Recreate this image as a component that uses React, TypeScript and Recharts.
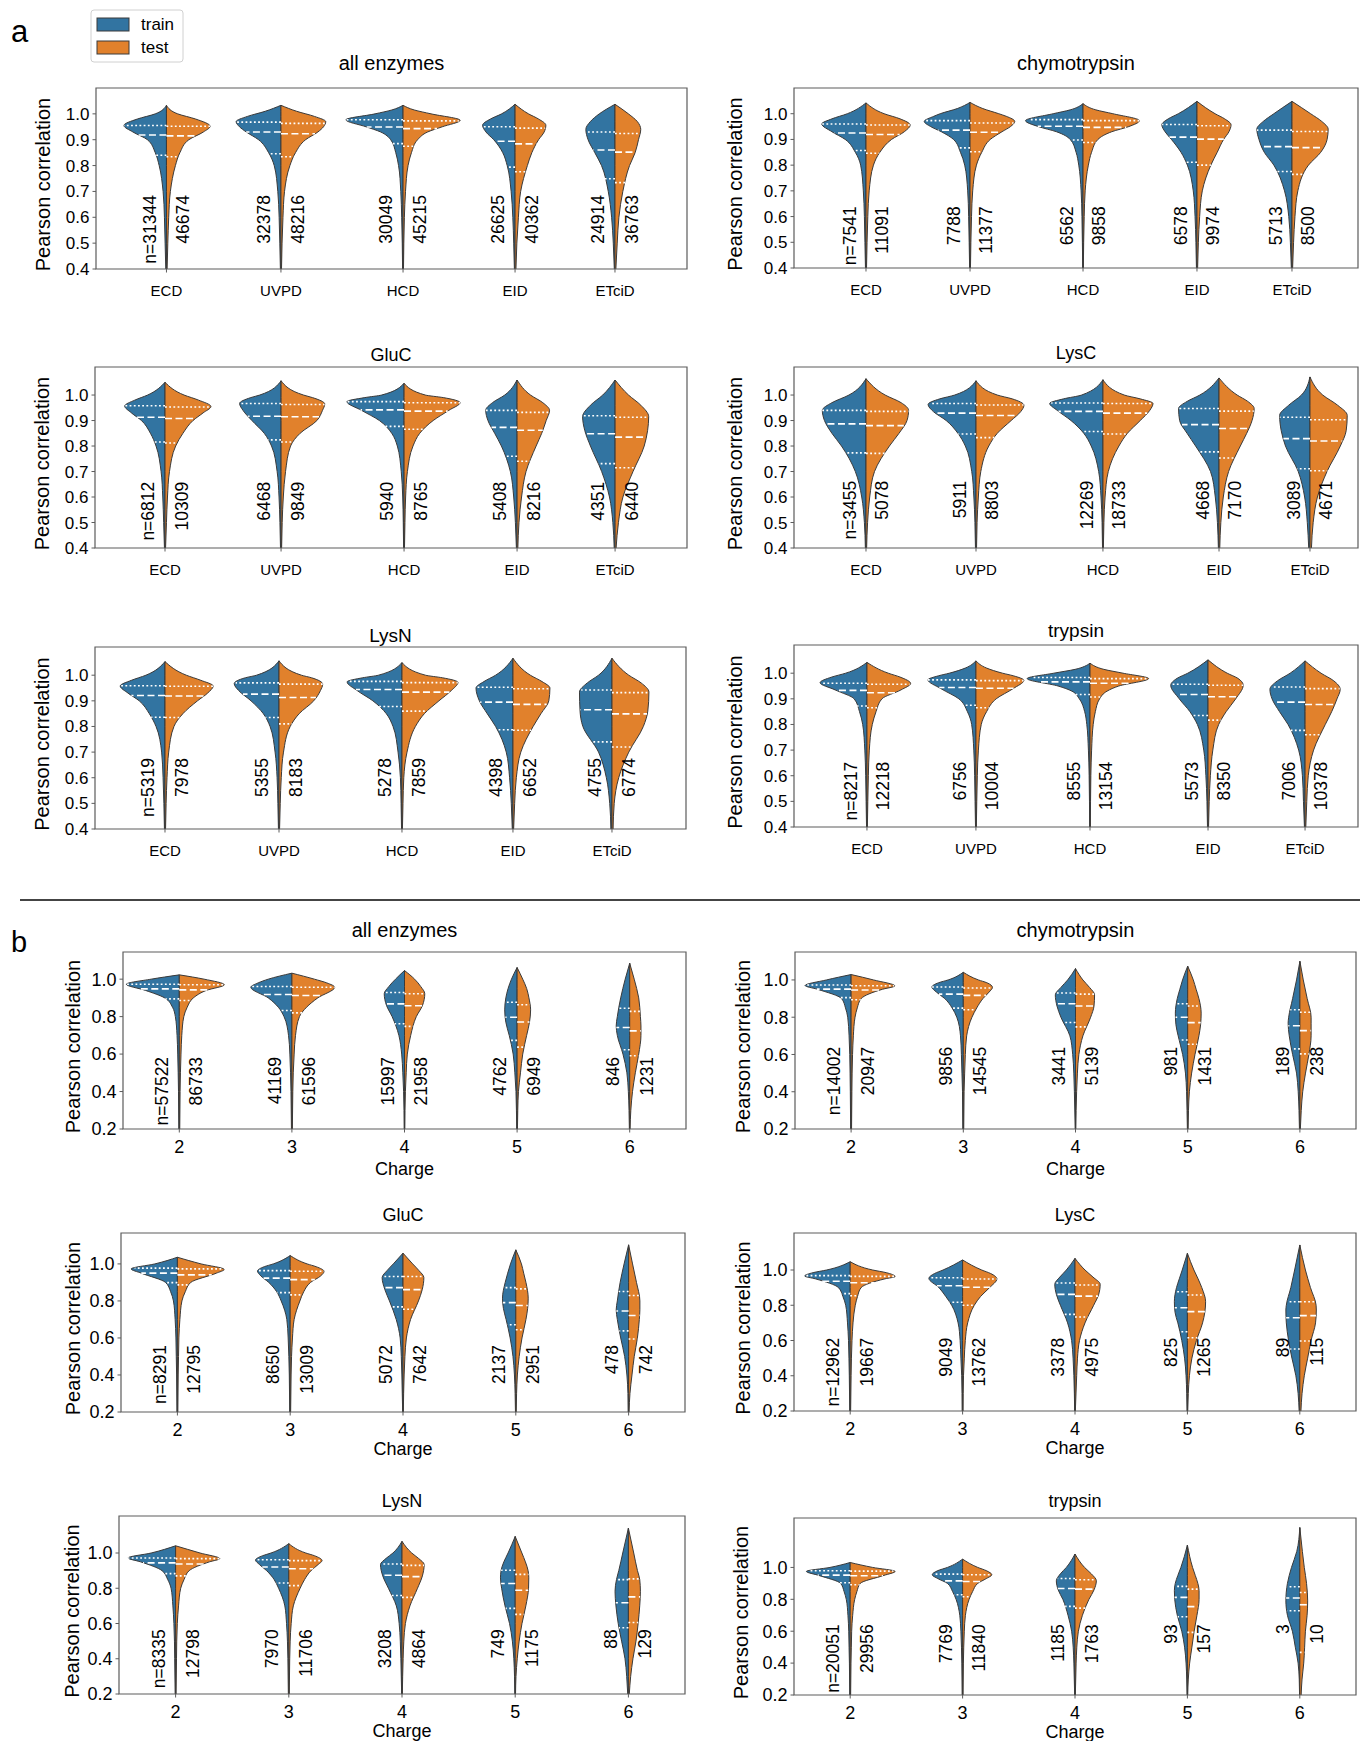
import React from "react";
import { Area, ComposedChart, ReferenceArea, ReferenceLine, Scatter, XAxis, YAxis } from "recharts";

const FONT = "'Liberation Sans', Arial, Helvetica, sans-serif";
const BLUE = "#3274a1";
const ORANGE = "#e1812c";
const EDGE = "#3a3a3a";
const SPINE = "#5c5c5c";

type Pt = [number, number];
type Shape = Pt[];

const methods = ["ECD", "UVPD", "HCD", "EID", "ETciD"];
const charges = ["2", "3", "4", "5", "6"];
const ticksA = [0.4, 0.5, 0.6, 0.7, 0.8, 0.9, 1.0];
const ticksB = [0.2, 0.4, 0.6, 0.8, 1.0];

// ---- a: all enzymes ----
const aAllTrainShape: Shape[] = [
  [[.4,.006],[.5,.012],[.6,.018],[.7,.03],[.8,.065],[.85,.1],[.9,.17],[.93,.3],[.955,.38],[.98,.26],[1,.1],[1.033,0]],
  [[.4,.005],[.5,.01],[.6,.016],[.7,.028],[.8,.06],[.85,.11],[.9,.2],[.93,.31],[.95,.37],[.97,.4],[.99,.3],[1.01,.14],[1.033,0]],
  [[.4,.004],[.5,.007],[.6,.012],[.7,.02],[.8,.04],[.85,.065],[.9,.11],[.93,.2],[.95,.33],[.977,.51],[1,.25],[1.015,.1],[1.033,0]],
  [[.4,.006],[.5,.012],[.6,.02],[.7,.035],[.8,.07],[.85,.11],[.9,.19],[.93,.26],[.956,.29],[.98,.22],[1,.12],[1.037,0]],
  [[.4,.006],[.5,.015],[.6,.03],[.7,.06],[.8,.12],[.85,.18],[.9,.24],[.94,.26],[.97,.22],[1,.14],[1.037,0]],
];
const aAllTestShape: Shape[] = [
  [[.4,.006],[.5,.012],[.6,.02],[.7,.035],[.8,.08],[.85,.12],[.9,.2],[.93,.33],[.952,.39],[.98,.26],[1,.1],[1.033,0]],
  [[.4,.005],[.5,.01],[.6,.018],[.7,.032],[.8,.08],[.85,.13],[.9,.22],[.93,.33],[.95,.38],[.97,.4],[.99,.3],[1.01,.14],[1.033,0]],
  [[.4,.004],[.5,.007],[.6,.012],[.7,.022],[.8,.045],[.85,.075],[.9,.13],[.93,.22],[.95,.35],[.975,.51],[1,.25],[1.015,.1],[1.033,0]],
  [[.4,.008],[.5,.016],[.6,.03],[.7,.05],[.8,.11],[.85,.15],[.9,.21],[.93,.26],[.956,.275],[.98,.21],[1,.12],[1.037,0]],
  [[.4,.008],[.5,.02],[.6,.035],[.7,.07],[.8,.13],[.85,.18],[.9,.21],[.94,.23],[.97,.2],[1,.12],[1.037,0]],
];
const aAllTrainQ = [[.84,.918,.955],[.846,.93,.968],[.885,.949,.977],[.794,.894,.95],[.749,.86,.93]];
const aAllTestQ = [[.834,.915,.952],[.834,.923,.963],[.875,.943,.973],[.776,.884,.945],[.734,.852,.924]];
const aAllTrainN = [31344, 32378, 30049, 26625, 24914];
const aAllTestN = [46674, 48216, 45215, 40362, 36763];

// ---- a: chymotrypsin ----
const aChyTrainShape: Shape[] = [
  [[.4,.005],[.5,.01],[.6,.015],[.7,.025],[.8,.05],[.85,.1],[.9,.195],[.93,.32],[.96,.415],[.98,.32],[1,.175],[1.042,0]],
  [[.4,.004],[.5,.008],[.6,.013],[.7,.022],[.8,.05],[.85,.09],[.9,.155],[.93,.27],[.95,.37],[.97,.43],[.99,.34],[1,.28],[1.02,.12],[1.044,0]],
  [[.4,.003],[.5,.006],[.6,.01],[.7,.018],[.8,.04],[.85,.065],[.9,.12],[.93,.25],[.95,.42],[.973,.54],[1,.28],[1.015,.12],[1.039,0]],
  [[.4,.005],[.5,.01],[.6,.018],[.7,.035],[.8,.09],[.85,.15],[.9,.24],[.93,.3],[.957,.33],[.98,.27],[1,.175],[1.048,0]],
  [[.4,.006],[.5,.015],[.6,.03],[.7,.07],[.8,.17],[.85,.26],[.9,.31],[.94,.33],[.97,.27],[1,.17],[1.048,0]],
];
const aChyTestShape: Shape[] = [
  [[.4,.005],[.5,.01],[.6,.017],[.7,.03],[.8,.07],[.85,.13],[.9,.24],[.93,.36],[.956,.415],[.98,.32],[1,.17],[1.042,0]],
  [[.4,.004],[.5,.008],[.6,.014],[.7,.025],[.8,.06],[.85,.11],[.9,.19],[.93,.3],[.95,.38],[.97,.42],[.99,.34],[1,.27],[1.02,.12],[1.044,0]],
  [[.4,.003],[.5,.006],[.6,.011],[.7,.02],[.8,.05],[.85,.08],[.9,.14],[.93,.27],[.95,.43],[.973,.53],[1,.28],[1.015,.12],[1.039,0]],
  [[.4,.006],[.5,.013],[.6,.025],[.7,.05],[.8,.13],[.85,.19],[.9,.25],[.93,.3],[.957,.32],[.98,.26],[1,.17],[1.048,0]],
  [[.4,.006],[.5,.015],[.6,.028],[.7,.055],[.8,.155],[.85,.27],[.9,.33],[.94,.34],[.97,.28],[1,.175],[1.048,0]],
];
const aChyTrainQ = [[.857,.925,.96],[.867,.936,.973],[.898,.951,.977],[.811,.909,.958],[.775,.872,.936]];
const aChyTestQ = [[.846,.919,.956],[.852,.928,.964],[.888,.947,.973],[.80,.901,.953],[.764,.868,.931]];
const aChyTrainN = [7541, 7788, 6562, 6578, 5713];
const aChyTestN = [11091, 11377, 9858, 9974, 8500];

// ---- a: GluC ----
const aGluTrainShape: Shape[] = [
  [[.4,.005],[.5,.012],[.6,.02],[.7,.035],[.8,.08],[.85,.13],[.9,.21],[.93,.3],[.957,.36],[.98,.27],[1,.155],[1.05,0]],
  [[.4,.005],[.5,.01],[.6,.018],[.7,.035],[.8,.085],[.85,.15],[.9,.26],[.94,.34],[.967,.37],[.99,.27],[1,.19],[1.056,0]],
  [[.4,.004],[.5,.007],[.6,.012],[.7,.025],[.8,.06],[.85,.11],[.9,.22],[.94,.38],[.974,.51],[.99,.35],[1,.2],[1.046,0]],
  [[.4,.006],[.5,.015],[.6,.03],[.7,.06],[.8,.14],[.85,.2],[.9,.26],[.94,.28],[.97,.22],[1,.11],[1.059,0]],
  [[.4,.008],[.5,.02],[.6,.05],[.7,.12],[.8,.22],[.86,.27],[.915,.29],[.96,.22],[1,.11],[1.059,0]],
];
const aGluTestShape: Shape[] = [
  [[.4,.005],[.5,.013],[.6,.022],[.7,.04],[.8,.095],[.85,.16],[.9,.25],[.93,.34],[.955,.41],[.98,.3],[1,.17],[1.05,0]],
  [[.4,.005],[.5,.01],[.6,.02],[.7,.04],[.8,.085],[.85,.17],[.9,.32],[.94,.37],[.965,.39],[.99,.28],[1,.2],[1.056,0]],
  [[.4,.004],[.5,.008],[.6,.014],[.7,.03],[.8,.08],[.85,.14],[.9,.26],[.94,.4],[.97,.5],[.99,.35],[1,.19],[1.046,0]],
  [[.4,.007],[.5,.017],[.6,.04],[.7,.08],[.8,.17],[.85,.22],[.9,.26],[.94,.29],[.97,.23],[1,.12],[1.059,0]],
  [[.4,.009],[.5,.03],[.6,.07],[.7,.16],[.8,.26],[.86,.29],[.915,.3],[.96,.23],[1,.12],[1.059,0]],
];
const aGluTrainQ = [[.816,.913,.958],[.824,.917,.967],[.877,.942,.974],[.76,.873,.94],[.731,.848,.919]];
const aGluTestQ = [[.812,.908,.953],[.816,.915,.963],[.866,.937,.97],[.74,.862,.932],[.715,.835,.913]];
const aGluTrainN = [6812, 6468, 5940, 5408, 4351];
const aGluTestN = [10309, 9849, 8765, 8216, 6440];

// ---- a: LysC ----
const aLysCTrainShape: Shape[] = [
  [[.4,.006],[.5,.015],[.6,.04],[.7,.1],[.8,.23],[.85,.32],[.9,.39],[.94,.41],[.97,.32],[1,.16],[1.064,0]],
  [[.4,.005],[.5,.01],[.6,.02],[.7,.04],[.8,.1],[.85,.17],[.9,.28],[.935,.4],[.963,.45],[.985,.34],[1,.2],[1.056,0]],
  [[.4,.004],[.5,.008],[.6,.018],[.7,.04],[.8,.11],[.85,.18],[.9,.3],[.94,.43],[.967,.5],[.985,.37],[1,.2],[1.06,0]],
  [[.4,.006],[.5,.015],[.6,.035],[.7,.08],[.8,.22],[.85,.3],[.9,.37],[.947,.38],[.975,.3],[1,.18],[1.067,0]],
  [[.4,.012],[.5,.025],[.6,.05],[.7,.11],[.8,.23],[.86,.27],[.92,.285],[.96,.2],[1,.08],[1.071,0]],
];
const aLysCTestShape: Shape[] = [
  [[.4,.006],[.5,.015],[.6,.035],[.7,.08],[.8,.22],[.85,.31],[.9,.385],[.94,.4],[.97,.33],[1,.18],[1.064,0]],
  [[.4,.005],[.5,.01],[.6,.022],[.7,.045],[.8,.12],[.85,.2],[.9,.33],[.935,.42],[.96,.45],[.985,.34],[1,.2],[1.056,0]],
  [[.4,.004],[.5,.009],[.6,.02],[.7,.05],[.8,.15],[.85,.23],[.9,.35],[.94,.44],[.967,.47],[.985,.35],[1,.2],[1.06,0]],
  [[.4,.007],[.5,.017],[.6,.04],[.7,.09],[.8,.2],[.85,.26],[.9,.31],[.947,.33],[.975,.27],[1,.17],[1.067,0]],
  [[.4,.014],[.5,.03],[.6,.07],[.7,.16],[.8,.285],[.86,.34],[.92,.35],[.96,.26],[1,.12],[1.071,0]],
];
const aLysCTrainQ = [[.773,.887,.94],[.847,.929,.967],[.857,.936,.969],[.777,.884,.947],[.711,.829,.913]];
const aLysCTestQ = [[.771,.88,.936],[.833,.92,.961],[.847,.929,.967],[.753,.869,.937],[.703,.82,.903]];
const aLysCTrainN = [3455, 5911, 12269, 4668, 3089];
const aLysCTestN = [5078, 8803, 18733, 7170, 4671];

// ---- a: LysN ----
const aLysNTrainShape: Shape[] = [
  [[.4,.005],[.5,.01],[.6,.017],[.7,.03],[.8,.08],[.85,.14],[.9,.23],[.93,.33],[.958,.4],[.98,.3],[1,.17],[1.053,0]],
  [[.4,.005],[.5,.01],[.6,.017],[.7,.035],[.8,.08],[.85,.14],[.9,.25],[.94,.36],[.967,.4],[.99,.3],[1,.2],[1.056,0]],
  [[.4,.004],[.5,.008],[.6,.014],[.7,.035],[.8,.08],[.85,.14],[.9,.26],[.94,.4],[.974,.49],[.99,.35],[1,.21],[1.049,0]],
  [[.4,.006],[.5,.015],[.6,.03],[.7,.06],[.8,.155],[.85,.23],[.9,.3],[.95,.33],[.975,.26],[1,.155],[1.066,0]],
  [[.4,.01],[.5,.02],[.6,.05],[.7,.12],[.8,.26],[.86,.285],[.934,.29],[.97,.22],[1,.12],[1.066,0]],
];
const aLysNTestShape: Shape[] = [
  [[.4,.005],[.5,.01],[.6,.018],[.7,.033],[.8,.08],[.85,.16],[.9,.29],[.93,.38],[.958,.43],[.98,.32],[1,.19],[1.053,0]],
  [[.4,.005],[.5,.011],[.6,.02],[.7,.04],[.8,.1],[.85,.18],[.9,.31],[.94,.37],[.965,.39],[.99,.29],[1,.2],[1.056,0]],
  [[.4,.004],[.5,.009],[.6,.016],[.7,.045],[.8,.12],[.85,.2],[.9,.33],[.94,.44],[.972,.5],[.99,.36],[1,.21],[1.049,0]],
  [[.4,.006],[.5,.015],[.6,.03],[.7,.07],[.8,.18],[.85,.25],[.9,.32],[.95,.33],[.975,.26],[1,.155],[1.066,0]],
  [[.4,.01],[.5,.02],[.6,.06],[.7,.15],[.8,.28],[.86,.32],[.934,.33],[.97,.26],[1,.15],[1.066,0]],
];
const aLysNTrainQ = [[.836,.921,.959],[.835,.926,.97],[.878,.944,.976],[.787,.895,.953],[.74,.865,.942]];
const aLysNTestQ = [[.835,.919,.957],[.81,.913,.965],[.86,.934,.971],[.785,.886,.947],[.72,.849,.932]];
const aLysNTrainN = [5319, 5355, 5278, 4398, 4755];
const aLysNTestN = [7978, 8183, 7859, 6652, 6774];

// ---- a: trypsin ----
const aTryTrainShape: Shape[] = [
  [[.4,.004],[.5,.008],[.6,.012],[.7,.02],[.8,.04],[.85,.07],[.9,.12],[.935,.3],[.963,.44],[.985,.33],[1,.2],[1.042,0]],
  [[.4,.004],[.5,.008],[.6,.012],[.7,.02],[.8,.04],[.85,.08],[.9,.16],[.94,.33],[.974,.45],[.99,.35],[1,.25],[1.02,.1],[1.048,0]],
  [[.4,.003],[.5,.005],[.6,.008],[.7,.015],[.8,.03],[.85,.05],[.9,.1],[.93,.17],[.95,.3],[.979,.59],[1,.34],[1.015,.14],[1.039,0]],
  [[.4,.005],[.5,.01],[.6,.02],[.7,.04],[.8,.1],[.85,.17],[.9,.27],[.953,.35],[.98,.29],[1,.19],[1.052,0]],
  [[.4,.006],[.5,.015],[.6,.025],[.7,.06],[.8,.16],[.85,.24],[.9,.31],[.937,.33],[.97,.26],[1,.14],[1.048,0]],
];
const aTryTestShape: Shape[] = [
  [[.4,.004],[.5,.008],[.6,.013],[.7,.022],[.8,.05],[.85,.085],[.9,.14],[.935,.32],[.96,.41],[.985,.31],[1,.2],[1.042,0]],
  [[.4,.004],[.5,.008],[.6,.013],[.7,.023],[.8,.05],[.85,.1],[.9,.19],[.94,.35],[.972,.45],[.99,.35],[1,.25],[1.02,.1],[1.048,0]],
  [[.4,.003],[.5,.005],[.6,.008],[.7,.015],[.8,.03],[.85,.05],[.9,.09],[.93,.16],[.95,.27],[.979,.55],[1,.31],[1.015,.13],[1.039,0]],
  [[.4,.005],[.5,.011],[.6,.022],[.7,.045],[.8,.1],[.85,.17],[.9,.26],[.953,.33],[.98,.28],[1,.18],[1.052,0]],
  [[.4,.007],[.5,.016],[.6,.03],[.7,.08],[.8,.19],[.85,.25],[.9,.3],[.937,.33],[.97,.27],[1,.15],[1.048,0]],
];
const aTryTrainQ = [[.872,.933,.961],[.875,.944,.974],[.917,.966,.983],[.835,.917,.957],[.777,.887,.946]];
const aTryTestQ = [[.865,.924,.957],[.865,.941,.971],[.907,.961,.979],[.817,.908,.953],[.76,.878,.94]];
const aTryTrainN = [8217, 6756, 8555, 5573, 7006];
const aTryTestN = [12218, 10004, 13154, 8350, 10378];

// ---- b: all enzymes ----
const bAllTrainShape: Shape[] = [
  [[.2,.004],[.4,.007],[.5,.01],[.6,.014],[.7,.02],[.8,.035],[.85,.06],[.9,.13],[.94,.3],[.973,.47],[1,.25],[1.023,0]],
  [[.2,.004],[.4,.008],[.5,.012],[.6,.018],[.7,.03],[.8,.07],[.85,.12],[.9,.21],[.957,.365],[.98,.3],[1,.21],[1.032,0]],
  [[.2,.003],[.4,.008],[.5,.015],[.6,.025],[.7,.05],[.8,.11],[.86,.16],[.922,.18],[.96,.14],[1,.08],[1.046,0]],
  [[.2,.003],[.3,.006],[.4,.01],[.5,.02],[.6,.035],[.7,.07],[.77,.1],[.836,.11],[.9,.1],[.95,.08],[1,.05],[1.062,0]],
  [[.2,.003],[.3,.006],[.4,.012],[.5,.025],[.6,.06],[.7,.11],[.75,.12],[.8,.11],[.9,.08],[1,.04],[1.085,0]],
];
const bAllTestShape: Shape[] = [
  [[.2,.004],[.4,.007],[.5,.01],[.6,.015],[.7,.022],[.8,.04],[.85,.07],[.9,.125],[.94,.24],[.97,.4],[1,.22],[1.023,0]],
  [[.2,.004],[.4,.008],[.5,.012],[.6,.02],[.7,.032],[.8,.067],[.85,.13],[.9,.23],[.957,.38],[.98,.31],[1,.2],[1.032,0]],
  [[.2,.003],[.4,.008],[.5,.015],[.6,.025],[.7,.055],[.8,.105],[.86,.16],[.922,.18],[.96,.145],[1,.09],[1.046,0]],
  [[.2,.003],[.3,.006],[.4,.012],[.5,.03],[.6,.05],[.7,.085],[.77,.11],[.836,.12],[.9,.105],[.95,.085],[1,.05],[1.062,0]],
  [[.2,.003],[.3,.01],[.4,.025],[.5,.05],[.6,.08],[.7,.1],[.75,.1],[.8,.095],[.9,.08],[1,.04],[1.085,0]],
];
const bAllTrainQ = [[.895,.948,.973],[.833,.918,.961],[.762,.868,.929],[.673,.797,.877],[.623,.742,.845]];
const bAllTestQ = [[.886,.943,.97],[.82,.913,.957],[.748,.858,.922],[.637,.771,.863],[.591,.724,.828]];
const bAllTrainN = [57522, 41169, 15997, 4762, 846];
const bAllTestN = [86733, 61596, 21958, 6949, 1231];

// ---- b: chymotrypsin ----
const bChyTrainShape: Shape[] = [
  [[.2,.004],[.4,.007],[.5,.009],[.6,.012],[.7,.018],[.8,.03],[.85,.05],[.9,.085],[.95,.3],[.97,.41],[1,.22],[1.029,0]],
  [[.2,.004],[.4,.007],[.5,.012],[.6,.017],[.7,.025],[.8,.058],[.85,.1],[.9,.165],[.935,.24],[.962,.28],[.985,.22],[1,.135],[1.041,0]],
  [[.2,.003],[.4,.01],[.5,.015],[.6,.025],[.7,.05],[.8,.13],[.86,.165],[.92,.18],[.96,.13],[1,.07],[1.061,0]],
  [[.2,.003],[.3,.006],[.4,.01],[.5,.02],[.6,.045],[.7,.085],[.76,.105],[.822,.11],[.9,.093],[.95,.07],[1,.046],[1.074,0]],
  [[.2,.004],[.3,.008],[.4,.015],[.5,.03],[.6,.065],[.7,.095],[.768,.105],[.8,.1],[.9,.065],[1,.03],[1.1,0]],
];
const bChyTestShape: Shape[] = [
  [[.2,.004],[.4,.007],[.5,.009],[.6,.013],[.7,.02],[.8,.035],[.85,.055],[.9,.09],[.95,.28],[.968,.39],[1,.2],[1.029,0]],
  [[.2,.004],[.4,.007],[.5,.012],[.6,.018],[.7,.03],[.8,.077],[.85,.12],[.9,.175],[.935,.23],[.96,.26],[.985,.21],[1,.135],[1.041,0]],
  [[.2,.003],[.4,.01],[.5,.017],[.6,.03],[.7,.066],[.8,.135],[.86,.165],[.92,.17],[.96,.125],[1,.066],[1.061,0]],
  [[.2,.003],[.3,.007],[.4,.015],[.5,.035],[.6,.065],[.7,.1],[.76,.115],[.822,.12],[.9,.1],[.95,.075],[1,.05],[1.074,0]],
  [[.2,.004],[.3,.012],[.4,.025],[.5,.05],[.6,.08],[.7,.1],[.768,.1],[.8,.1],[.9,.065],[1,.03],[1.1,0]],
];
const bChyTrainQ = [[.905,.951,.973],[.849,.924,.962],[.772,.872,.93],[.678,.8,.872],[.63,.754,.84]];
const bChyTestQ = [[.894,.946,.969],[.84,.917,.957],[.748,.86,.924],[.655,.771,.86],[.603,.728,.827]];
const bChyTrainN = [14002, 9856, 3441, 981, 189];
const bChyTestN = [20947, 14545, 5139, 1431, 238];

// ---- b: GluC ----
const bGluTrainShape: Shape[] = [
  [[.2,.004],[.4,.007],[.5,.01],[.6,.013],[.7,.02],[.8,.035],[.85,.06],[.9,.105],[.95,.32],[.973,.41],[1,.2],[1.036,0]],
  [[.2,.004],[.4,.008],[.5,.012],[.6,.018],[.7,.03],[.8,.08],[.85,.12],[.9,.19],[.935,.26],[.962,.29],[.985,.23],[1,.15],[1.045,0]],
  [[.2,.003],[.4,.01],[.5,.015],[.6,.025],[.7,.06],[.8,.12],[.86,.16],[.926,.185],[.965,.14],[1,.086],[1.058,0]],
  [[.2,.003],[.3,.006],[.4,.012],[.5,.025],[.6,.05],[.7,.086],[.76,.11],[.815,.118],[.9,.094],[.95,.072],[1,.047],[1.076,0]],
  [[.2,.004],[.3,.006],[.4,.015],[.5,.035],[.6,.07],[.7,.1],[.752,.11],[.8,.1],[.9,.075],[1,.04],[1.103,0]],
];
const bGluTestShape: Shape[] = [
  [[.2,.004],[.4,.007],[.5,.01],[.6,.013],[.7,.022],[.8,.04],[.85,.07],[.9,.118],[.95,.345],[.97,.415],[1,.21],[1.036,0]],
  [[.2,.004],[.4,.008],[.5,.012],[.6,.02],[.7,.035],[.8,.086],[.85,.12],[.9,.18],[.935,.27],[.96,.3],[.985,.23],[1,.15],[1.045,0]],
  [[.2,.003],[.4,.01],[.5,.017],[.6,.03],[.7,.067],[.8,.137],[.86,.17],[.926,.185],[.965,.14],[1,.086],[1.058,0]],
  [[.2,.003],[.3,.007],[.4,.014],[.5,.03],[.6,.055],[.7,.09],[.76,.105],[.815,.11],[.9,.09],[.95,.07],[1,.05],[1.076,0]],
  [[.2,.004],[.3,.012],[.4,.03],[.5,.05],[.6,.078],[.7,.095],[.752,.1],[.8,.1],[.9,.07],[1,.035],[1.103,0]],
];
const bGluTrainQ = [[.899,.95,.977],[.845,.923,.964],[.768,.872,.932],[.671,.791,.872],[.638,.746,.851]];
const bGluTestQ = [[.887,.941,.973],[.833,.915,.96],[.755,.861,.932],[.644,.775,.865],[.594,.721,.829]];
const bGluTrainN = [8291, 8650, 5072, 2137, 478];
const bGluTestN = [12795, 13009, 7642, 2951, 742];

// ---- b: LysC ----
const bLysCTrainShape: Shape[] = [
  [[.2,.004],[.4,.008],[.5,.011],[.6,.015],[.7,.024],[.8,.04],[.85,.065],[.9,.104],[.95,.31],[.966,.405],[.985,.33],[1,.21],[1.047,0]],
  [[.2,.004],[.4,.008],[.5,.015],[.6,.022],[.7,.04],[.8,.097],[.85,.15],[.9,.21],[.953,.3],[.98,.25],[1,.174],[1.057,0]],
  [[.2,.003],[.4,.01],[.5,.017],[.6,.03],[.7,.066],[.8,.13],[.86,.165],[.919,.18],[.96,.135],[1,.077],[1.066,0]],
  [[.2,.003],[.3,.006],[.4,.012],[.5,.025],[.6,.05],[.7,.085],[.76,.11],[.82,.116],[.9,.097],[.95,.072],[1,.046],[1.095,0]],
  [[.2,.006],[.3,.015],[.4,.035],[.5,.07],[.6,.1],[.7,.12],[.773,.124],[.8,.12],[.9,.08],[1,.046],[1.142,0]],
];
const bLysCTestShape: Shape[] = [
  [[.2,.004],[.4,.008],[.5,.011],[.6,.016],[.7,.025],[.8,.045],[.85,.065],[.9,.097],[.95,.31],[.963,.4],[.985,.32],[1,.2],[1.047,0]],
  [[.2,.004],[.4,.008],[.5,.015],[.6,.024],[.7,.045],[.8,.104],[.85,.16],[.9,.24],[.95,.305],[.98,.25],[1,.17],[1.057,0]],
  [[.2,.003],[.4,.015],[.5,.022],[.6,.04],[.7,.089],[.8,.166],[.86,.21],[.919,.224],[.96,.16],[1,.089],[1.066,0]],
  [[.2,.003],[.3,.008],[.4,.018],[.5,.04],[.6,.08],[.7,.135],[.76,.155],[.82,.162],[.9,.128],[.95,.095],[1,.058],[1.095,0]],
  [[.2,.01],[.3,.02],[.4,.04],[.5,.07],[.6,.1],[.7,.14],[.773,.147],[.8,.145],[.9,.095],[1,.05],[1.142,0]],
];
const bLysCTrainQ = [[.866,.936,.968],[.817,.911,.956],[.748,.862,.926],[.65,.786,.877],[.552,.729,.82]];
const bLysCTestQ = [[.854,.928,.964],[.80,.902,.949],[.733,.852,.915],[.616,.764,.858],[.597,.741,.82]];
const bLysCTrainN = [12962, 9049, 3378, 825, 89];
const bLysCTestN = [19667, 13762, 4975, 1265, 115];

// ---- b: LysN ----
const bLysNTrainShape: Shape[] = [
  [[.2,.004],[.4,.008],[.5,.01],[.6,.015],[.7,.024],[.8,.04],[.85,.07],[.9,.12],[.95,.31],[.972,.42],[1,.216],[1.041,0]],
  [[.2,.004],[.4,.008],[.5,.012],[.6,.02],[.7,.035],[.8,.09],[.85,.13],[.9,.196],[.935,.26],[.96,.294],[.985,.23],[1,.157],[1.053,0]],
  [[.2,.003],[.4,.01],[.5,.015],[.6,.025],[.7,.05],[.8,.12],[.87,.17],[.934,.19],[.97,.14],[1,.08],[1.066,0]],
  [[.2,.003],[.3,.006],[.4,.012],[.5,.025],[.6,.05],[.7,.09],[.8,.12],[.859,.13],[.9,.125],[.95,.1],[1,.063],[1.094,0]],
  [[.2,.006],[.3,.015],[.4,.03],[.5,.06],[.6,.09],[.7,.11],[.783,.118],[.85,.105],[.9,.085],[1,.05],[1.141,0]],
];
const bLysNTestShape: Shape[] = [
  [[.2,.004],[.4,.008],[.5,.01],[.6,.015],[.7,.026],[.8,.045],[.85,.075],[.9,.12],[.95,.3],[.968,.39],[1,.216],[1.041,0]],
  [[.2,.004],[.4,.008],[.5,.012],[.6,.021],[.7,.04],[.8,.1],[.85,.14],[.9,.196],[.935,.26],[.957,.294],[.985,.225],[1,.15],[1.053,0]],
  [[.2,.003],[.4,.01],[.5,.016],[.6,.03],[.7,.07],[.8,.137],[.87,.18],[.934,.196],[.97,.145],[1,.086],[1.066,0]],
  [[.2,.003],[.3,.007],[.4,.018],[.5,.035],[.6,.06],[.7,.094],[.8,.118],[.859,.12],[.9,.114],[.95,.09],[1,.059],[1.094,0]],
  [[.2,.008],[.3,.02],[.4,.04],[.5,.067],[.6,.086],[.7,.1],[.783,.106],[.85,.1],[.9,.08],[1,.047],[1.141,0]],
];
const bLysNTrainQ = [[.883,.944,.972],[.83,.921,.962],[.759,.874,.938],[.686,.827,.902],[.576,.718,.849]];
const bLysNTestQ = [[.87,.938,.968],[.815,.911,.957],[.748,.866,.93],[.652,.789,.879],[.606,.751,.853]];
const bLysNTrainN = [8335, 7970, 3208, 749, 88];
const bLysNTestN = [12798, 11706, 4864, 1175, 129];

// ---- b: trypsin ----
const bTryTrainShape: Shape[] = [
  [[.2,.004],[.4,.007],[.5,.01],[.6,.013],[.7,.02],[.8,.035],[.85,.055],[.9,.085],[.95,.28],[.975,.39],[1,.18],[1.031,0]],
  [[.2,.004],[.4,.007],[.5,.01],[.6,.015],[.7,.025],[.8,.058],[.85,.09],[.9,.135],[.93,.22],[.954,.27],[.98,.22],[1,.135],[1.052,0]],
  [[.2,.003],[.4,.01],[.5,.016],[.6,.03],[.7,.062],[.8,.108],[.86,.15],[.916,.166],[.96,.13],[1,.077],[1.084,0]],
  [[.2,.003],[.3,.006],[.4,.012],[.5,.025],[.6,.05],[.7,.09],[.8,.113],[.854,.116],[.9,.108],[.95,.085],[1,.058],[1.14,0]],
  [[.2,.002],[.3,.005],[.4,.015],[.5,.04],[.6,.066],[.7,.11],[.79,.124],[.9,.11],[1,.074],[1.1,.027],[1.25,0]],
];
const bTryTestShape: Shape[] = [
  [[.2,.004],[.4,.007],[.5,.01],[.6,.013],[.7,.022],[.8,.04],[.85,.06],[.9,.09],[.95,.3],[.975,.4],[1,.2],[1.031,0]],
  [[.2,.004],[.4,.007],[.5,.01],[.6,.015],[.7,.025],[.8,.058],[.85,.09],[.9,.135],[.93,.21],[.954,.26],[.98,.21],[1,.135],[1.052,0]],
  [[.2,.003],[.4,.01],[.5,.016],[.6,.03],[.7,.066],[.8,.124],[.86,.17],[.916,.19],[.96,.145],[1,.085],[1.084,0]],
  [[.2,.003],[.3,.008],[.4,.02],[.5,.04],[.6,.06],[.7,.085],[.8,.104],[.854,.104],[.9,.093],[.95,.07],[1,.046],[1.14,0]],
  [[.2,.012],[.3,.02],[.4,.035],[.5,.043],[.6,.05],[.7,.065],[.79,.07],[.9,.06],[1,.04],[1.1,.023],[1.25,0]],
];
const bTryTrainQ = [[.904,.952,.979],[.829,.916,.958],[.756,.868,.931],[.691,.812,.881],[.728,.808,.879]];
const bTryTestQ = [[.891,.948,.977],[.816,.912,.954],[.745,.864,.923],[.593,.754,.864],[.467,.766,.843]];
const bTryTrainN = [20051, 7769, 1185, 93, 3];
const bTryTestN = [29956, 11840, 1763, 157, 10];

type Box = { x: number; y: number; w: number; h: number };
type Panel = {
  title: string; titleSize: number; titleY: number; box: Box;
  xDomain: [number, number]; pos: number[]; cats: string[];
  yDomain: [number, number]; yTicks: number[];
  trainShape: Shape[]; testShape: Shape[]; trainQ: number[][]; testQ: number[][];
  trainN: number[]; testN: number[];
  labelY: number; labelGap: number; yTickFont: number; xTickFont: number; xTickMargin: number;
  chargeDy?: number;
};

const posA1L = [0, 1.022, 2.112, 3.112, 4.004];
const posA1R = [0, 0.977, 2.038, 3.108, 4.0];
const posA2L = [0, 1.036, 2.134, 3.143, 4.018];
const posA2R = [0, 1.033, 2.225, 3.315, 4.169];
const posA3L = [0, 1.018, 2.116, 3.107, 3.991];
const posA3R = [0, 1.023, 2.094, 3.202, 4.113];
const posB = [0, 1, 2, 3, 4];

const aL = { labelGap: 53, yTickFont: 17, xTickFont: 15, xTickMargin: 13, cats: methods, yTicks: ticksA };
const aR = { labelGap: 59, yTickFont: 17, xTickFont: 15, xTickMargin: 13, cats: methods, yTicks: ticksA };
const bS = { yTickFont: 18, xTickFont: 18, xTickMargin: 8, cats: charges, yTicks: ticksB, pos: posB, xDomain: [-0.5, 4.5] as [number, number] };

const panels: Panel[] = [
  { ...aL, title: "all enzymes", titleSize: 20, titleY: 63, box: { x: 96, y: 88, w: 591, h: 181 }, xDomain: [-0.629, 4.647], pos: posA1L, yDomain: [0.4, 1.1],
    trainShape: aAllTrainShape, testShape: aAllTestShape, trainQ: aAllTrainQ, testQ: aAllTestQ, trainN: aAllTrainN, testN: aAllTestN, labelY: 0.686 },
  { ...aR, title: "chymotrypsin", titleSize: 20, titleY: 63, box: { x: 794, y: 88, w: 564, h: 180 }, xDomain: [-0.676, 4.62], pos: posA1R, yDomain: [0.4, 1.1],
    trainShape: aChyTrainShape, testShape: aChyTestShape, trainQ: aChyTrainQ, testQ: aChyTestQ, trainN: aChyTrainN, testN: aChyTestN, labelY: 0.64 },
  { ...aL, title: "GluC", titleSize: 18, titleY: 355, box: { x: 95, y: 367, w: 592, h: 181 }, xDomain: [-0.625, 4.66], pos: posA2L, yDomain: [0.4, 1.11],
    trainShape: aGluTrainShape, testShape: aGluTestShape, trainQ: aGluTrainQ, testQ: aGluTestQ, trainN: aGluTrainN, testN: aGluTestN, labelY: 0.66 },
  { ...aR, title: "LysC", titleSize: 18, titleY: 353, box: { x: 794, y: 367, w: 564, h: 181 }, xDomain: [-0.676, 4.62], pos: posA2R, yDomain: [0.4, 1.11],
    trainShape: aLysCTrainShape, testShape: aLysCTestShape, trainQ: aLysCTrainQ, testQ: aLysCTestQ, trainN: aLysCTrainN, testN: aLysCTestN, labelY: 0.664 },
  { ...aL, title: "LysN", titleSize: 19, titleY: 635, box: { x: 95, y: 647, w: 591, h: 182 }, xDomain: [-0.625, 4.652], pos: posA3L, yDomain: [0.4, 1.11],
    trainShape: aLysNTrainShape, testShape: aLysNTestShape, trainQ: aLysNTrainQ, testQ: aLysNTestQ, trainN: aLysNTrainN, testN: aLysNTestN, labelY: 0.677 },
  { ...aR, title: "trypsin", titleSize: 19, titleY: 630, box: { x: 794, y: 645, w: 564, h: 182 }, xDomain: [-0.685, 4.61], pos: posA3R, yDomain: [0.4, 1.11],
    trainShape: aTryTrainShape, testShape: aTryTestShape, trainQ: aTryTrainQ, testQ: aTryTestQ, trainN: aTryTrainN, testN: aTryTestN, labelY: 0.655 },
  { ...bS, title: "all enzymes", titleSize: 20, titleY: 930, box: { x: 123, y: 952, w: 563, h: 177 }, yDomain: [0.2, 1.145], labelGap: 50, chargeDy: 40,
    trainShape: bAllTrainShape, testShape: bAllTestShape, trainQ: bAllTrainQ, testQ: bAllTestQ, trainN: bAllTrainN, testN: bAllTestN, labelY: 0.585 },
  { ...bS, title: "chymotrypsin", titleSize: 20, titleY: 930, box: { x: 795, y: 952, w: 561, h: 177 }, yDomain: [0.2, 1.15], labelGap: 52, chargeDy: 40,
    trainShape: bChyTrainShape, testShape: bChyTestShape, trainQ: bChyTrainQ, testQ: bChyTestQ, trainN: bChyTrainN, testN: bChyTestN, labelY: 0.642 },
  { ...bS, title: "GluC", titleSize: 18, titleY: 1215, box: { x: 121, y: 1233, w: 564, h: 179 }, yDomain: [0.2, 1.167], labelGap: 48, chargeDy: 37,
    trainShape: bGluTrainShape, testShape: bGluTestShape, trainQ: bGluTrainQ, testQ: bGluTestQ, trainN: bGluTrainN, testN: bGluTestN, labelY: 0.562 },
  { ...bS, title: "LysC", titleSize: 18, titleY: 1215, box: { x: 794, y: 1233, w: 562, h: 178 }, yDomain: [0.2, 1.21], labelGap: 51, chargeDy: 37,
    trainShape: bLysCTrainShape, testShape: bLysCTestShape, trainQ: bLysCTrainQ, testQ: bLysCTestQ, trainN: bLysCTrainN, testN: bLysCTestN, labelY: 0.615 },
  { ...bS, title: "LysN", titleSize: 18, titleY: 1501, box: { x: 119, y: 1516, w: 566, h: 178 }, yDomain: [0.2, 1.21], labelGap: 47, chargeDy: 37,
    trainShape: bLysNTrainShape, testShape: bLysNTestShape, trainQ: bLysNTrainQ, testQ: bLysNTestQ, trainN: bLysNTrainN, testN: bLysNTestN, labelY: 0.567 },
  { ...bS, title: "trypsin", titleSize: 18, titleY: 1501, box: { x: 794, y: 1518, w: 562, h: 177 }, yDomain: [0.2, 1.31], labelGap: 53, chargeDy: 37,
    trainShape: bTryTrainShape, testShape: bTryTestShape, trainQ: bTryTrainQ, testQ: bTryTestQ, trainN: bTryTrainN, testN: bTryTestN, labelY: 0.644 },
];

// density width at a given correlation value
function widthAt(shape: Shape, y: number) {
  const s = [...shape].sort((a, b) => a[0] - b[0]);
  for (let k = 0; k < s.length - 1; k++) {
    const [y0, w0] = s[k];
    const [y1, w1] = s[k + 1];
    if (y >= y0 && y <= y1) return w0 + ((w1 - w0) * (y - y0)) / (y1 - y0);
  }
  return 0;
}

const CountLabel = (props: any) => {
  const { cx, cy, payload } = props;
  if (cx == null || cy == null) return <g />;
  return (
    <text x={cx} y={cy} transform={`rotate(-90 ${cx} ${cy})`} textAnchor="end" dominantBaseline="central"
      fontSize={17.5} fontFamily={FONT} fill="#000">
      {payload.t}
    </text>
  );
};

function ViolinPanel({ p }: { p: Panel }) {
  const ML = p.labelGap * 2 + 4;
  const MT = 6;
  const XH = 52;
  const width = ML + p.box.w + 6;
  const height = MT + p.box.h + XH + 2;

  const halves: { key: string; fill: string; rows: { y: number; v: number[] }[] }[] = [];
  const lines: { key: string; c: number; end: number; q: number; med: boolean }[] = [];
  const labels: { x: number; y: number; t: string }[] = [];
  p.pos.forEach((c, i) => {
    const sides = [
      { side: -1, shape: p.trainShape[i], q: p.trainQ[i], fill: BLUE, n: (i === 0 ? "n=" : "") + p.trainN[i] },
      { side: 1, shape: p.testShape[i], q: p.testQ[i], fill: ORANGE, n: String(p.testN[i]) },
    ];
    sides.forEach((h) => {
      halves.push({
        key: `${i}_${h.side}`,
        fill: h.fill,
        rows: [...h.shape].sort((a, b) => b[0] - a[0]).map(([y, w]) => ({ y, v: [c, c + h.side * w] })),
      });
      h.q.forEach((q, k) =>
        lines.push({ key: `${i}_${h.side}_${k}`, c, end: c + h.side * widthAt(h.shape, q), q, med: k === 1 })
      );
      labels.push({ x: c + h.side * 0.15, y: p.labelY, t: h.n });
    });
  });

  const yLabel = (lp: any) => {
    const vb = lp.viewBox || { x: 0, y: 0, width: 0, height: 0 };
    const cx = vb.x + vb.width / 2;
    const cy = vb.y + vb.height / 2 + 6;
    return (
      <text x={cx} y={cy} transform={`rotate(-90 ${cx} ${cy})`} textAnchor="middle" dominantBaseline="central"
        fontSize={20} fontFamily={FONT} fill="#000">
        Pearson correlation
      </text>
    );
  };
  const xLabel = (lp: any) => {
    const vb = lp.viewBox || { x: 0, y: 0, width: 0, height: 0 };
    return (
      <text x={vb.x + vb.width / 2} y={vb.y + (p.chargeDy ?? 38)} textAnchor="middle" dominantBaseline="central"
        fontSize={18} fontFamily={FONT} fill="#000">
        Charge
      </text>
    );
  };

  return (
    <div style={{ position: "absolute", left: p.box.x - ML, top: p.box.y - MT }}>
      <ComposedChart width={width} height={height} layout="vertical" margin={{ top: MT, right: 6, bottom: 2, left: 4 }}>
        <XAxis
          type="number"
          domain={p.xDomain}
          allowDataOverflow
          ticks={p.pos}
          interval={0}
          tickFormatter={(v: number) => p.cats[p.pos.indexOf(v)] ?? ""}
          axisLine={false}
          tickLine={{ stroke: SPINE }}
          tickSize={3.5}
          tickMargin={p.xTickMargin}
          height={XH}
          tick={{ fontSize: p.xTickFont, fill: "#000", fontFamily: FONT }}
          label={p.chargeDy ? xLabel : undefined}
        />
        <YAxis
          type="number"
          dataKey="y"
          domain={p.yDomain}
          allowDataOverflow
          reversed
          ticks={p.yTicks}
          interval={0}
          tickFormatter={(v: number) => v.toFixed(1)}
          axisLine={false}
          tickLine={{ stroke: SPINE }}
          tickSize={3.5}
          tickMargin={3}
          width={p.labelGap * 2}
          tick={{ fontSize: p.yTickFont, fill: "#000", fontFamily: FONT }}
          label={yLabel}
        />
        {halves.map((h) => (
          <Area
            key={h.key}
            data={h.rows}
            dataKey="v"
            type="monotone"
            fill={h.fill}
            fillOpacity={1}
            stroke={EDGE}
            strokeWidth={1}
            dot={false}
            activeDot={false}
            isAnimationActive={false}
          />
        ))}
        {lines.map((l) => (
          <ReferenceLine
            key={l.key}
            segment={[{ x: l.c, y: l.q }, { x: l.end, y: l.q }]}
            stroke="#ffffff"
            strokeWidth={1.6}
            strokeDasharray={l.med ? "7 3.5" : "1.8 2.4"}
            ifOverflow="visible"
          />
        ))}
        <ReferenceArea x1={p.xDomain[0]} x2={p.xDomain[1]} y1={p.yDomain[0]} y2={p.yDomain[1]}
          fill="none" stroke={SPINE} strokeWidth={1.2} ifOverflow="visible" />
        <Scatter data={labels} dataKey="x" shape={CountLabel} isAnimationActive={false} />
      </ComposedChart>
    </div>
  );
}

export default function App() {
  return (
    <div style={{ position: "absolute", left: 0, top: 0, width: 1360, height: 1741, background: "#fff", fontFamily: FONT }}>
      <svg width={1360} height={1741} style={{ position: "absolute", left: 0, top: 0 }}>
        <text x={11} y={42} fontSize={31} fontFamily={FONT} fill="#000">a</text>
        <rect x={91} y={10} width={92} height={52} rx={3} fill="#fff" stroke="#d0d0d0" />
        <rect x={97} y={18} width={32} height={13} fill={BLUE} stroke={EDGE} />
        <rect x={97} y={41} width={32} height={13} fill={ORANGE} stroke={EDGE} />
        <text x={141} y={24.5} fontSize={17} fontFamily={FONT} dominantBaseline="central" fill="#000">train</text>
        <text x={141} y={47.5} fontSize={17} fontFamily={FONT} dominantBaseline="central" fill="#000">test</text>
        <line x1={20} x2={1360} y1={900} y2={900} stroke="#444" strokeWidth={2} />
        <text x={11} y={952} fontSize={29} fontFamily={FONT} fill="#000">b</text>
        {panels.map((p) => (
          <text key={p.title + p.box.y} x={p.box.x + p.box.w / 2} y={p.titleY} textAnchor="middle" dominantBaseline="central"
            fontSize={p.titleSize} fontFamily={FONT} fill="#000">
            {p.title}
          </text>
        ))}
      </svg>
      {panels.map((p) => (
        <ViolinPanel key={p.title + p.box.y} p={p} />
      ))}
    </div>
  );
}
